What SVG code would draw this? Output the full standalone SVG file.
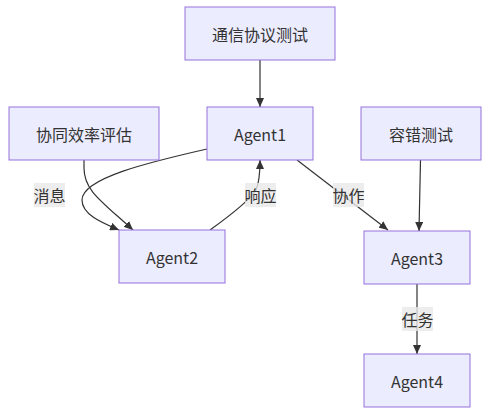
<svg xmlns="http://www.w3.org/2000/svg" width="490" height="414" viewBox="0 0 490 414">
<style>
.node rect{fill:#ECECFF;stroke:#9370DB;stroke-width:1}
text{font-family:"Noto Sans CJK SC","Liberation Sans",sans-serif;font-size:16px;fill:#333;text-anchor:middle;dominant-baseline:central}
.edge{fill:none;stroke:#333;stroke-width:1.2;marker-end:url(#arrow)}
.lbl rect{fill:#e8e8e8;fill-opacity:0.8;stroke:none}
</style>
<defs>
<marker id="arrow" viewBox="0 0 9 8" refX="9" refY="4" markerWidth="9" markerHeight="8" markerUnits="userSpaceOnUse" orient="auto">
<path d="M0,0 L9,4 L0,8 z" fill="#333"/>
</marker>
</defs>
<rect width="490" height="414" fill="#ffffff"/>
<g id="connectors">
<path class="edge" d="M260,60 L260,107"/>
<path class="edge" d="M207,149 C150,162 82,178 82,200 C82,214 100,222 119,230"/>
<path class="edge" d="M84,160 L84,168 C84,190 100,200 133,230"/>
<path class="edge" d="M210,230 C235,212 250,200 256,190 C259,183 260,175 260,160"/>
<path class="edge" d="M297,160 L388,230"/>
<path class="edge" d="M420.5,160 L419,231"/>
<path class="edge" d="M417,284 L417,354"/>
<g class="lbl" id="label-xiaoxi"><rect x="34" y="183" width="31" height="24"/><text x="49.5" y="195">消息</text></g>
<g class="lbl" id="label-xiangying"><rect x="245" y="183" width="31" height="24"/><text x="260.5" y="195">响应</text></g>
<g class="lbl" id="label-xiezuo"><rect x="333" y="183" width="31" height="24"/><text x="348.5" y="195">协作</text></g>
<g class="lbl" id="label-renwu"><rect x="402" y="307" width="31" height="24"/><text x="417.5" y="319">任务</text></g>
</g>
<g class="node" id="node-protocol"><rect x="185" y="7" width="150" height="53"/><text x="260" y="33.5">通信协议测试</text></g>
<g class="node" id="node-efficiency"><rect x="9" y="107" width="150" height="53"/><text x="84" y="133.5">协同效率评估</text></g>
<g class="node" id="node-agent1"><rect x="207" y="107" width="106" height="53"/><text x="260" y="133.5">Agent1</text></g>
<g class="node" id="node-fault"><rect x="361" y="107" width="120" height="53"/><text x="421" y="133.5">容错测试</text></g>
<g class="node" id="node-agent2"><rect x="119" y="230" width="106" height="53"/><text x="172" y="256.5">Agent2</text></g>
<g class="node" id="node-agent3"><rect x="364" y="231" width="106" height="53"/><text x="417" y="257.5">Agent3</text></g>
<g class="node" id="node-agent4"><rect x="364" y="354" width="106" height="53"/><text x="417" y="380.5">Agent4</text></g>
</svg>
